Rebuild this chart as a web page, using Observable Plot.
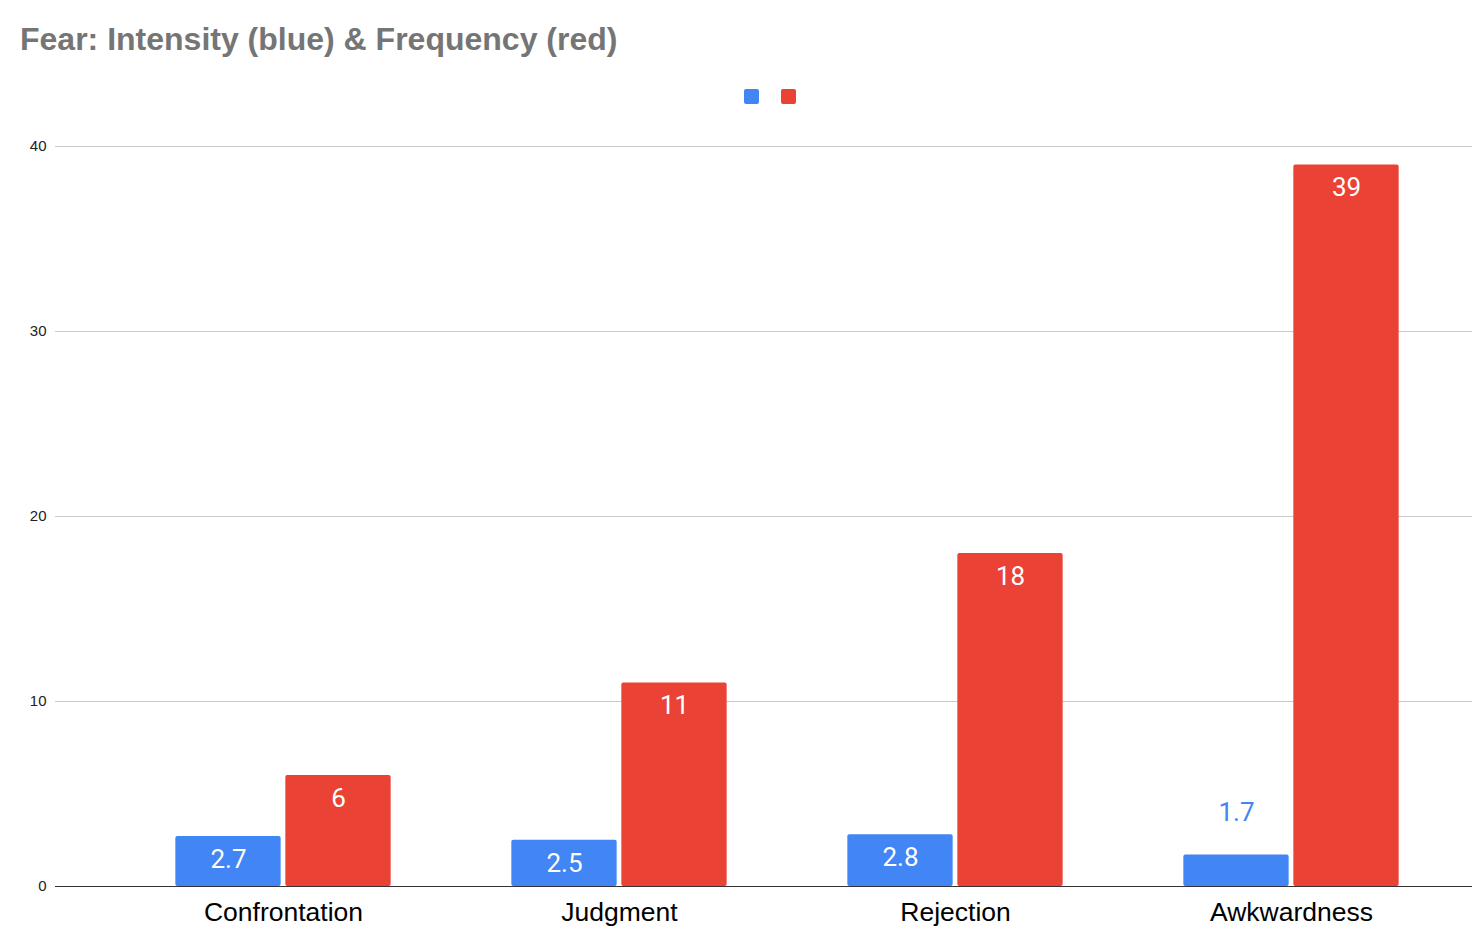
<!DOCTYPE html>
<html>
<head>
<meta charset="utf-8">
<script src="https://cdn.jsdelivr.net/npm/d3@7"></script>
<script src="https://cdn.jsdelivr.net/npm/@observablehq/plot@0.6"></script>
<style>
  html, body { margin: 0; padding: 0; background: #fff; }
  #header { position: relative; width: 1472px; height: 120px; }
  #title { position: absolute; left: 20px; top: 23px; font: bold 32px/32px "Liberation Sans", Arial, sans-serif; color: #757575; white-space: nowrap; }
  .sw { position: absolute; top: 89px; width: 15px; height: 15px; border-radius: 2px; }
  #chart svg { display: block; }
</style>
</head>
<body>
<div id="header">
  <div id="title">Fear: Intensity (blue) &amp; Frequency (red)</div>
</div>
<div id="chart"></div>
<script>
const categories = ["Confrontation", "Judgment", "Rejection", "Awkwardness"];
const intensity = [2.7, 2.5, 2.8, 1.7];
const frequency = [6, 11, 18, 39];
const seriesNames = ["Intensity", "Frequency"];
const seriesColors = ["#4285F4", "#EA4335"];
const yTicks = [0, 10, 20, 30, 40];

// legend swatches (no labels, as in the reference)
const header = document.getElementById("header");
[744, 781].forEach((left, i) => {
  const s = document.createElement("div");
  s.className = "sw";
  s.style.left = left + "px";
  s.style.background = seriesColors[i];
  header.appendChild(s);
});

const blueRows = categories.map((c, i) => ({category: c, value: intensity[i]}));
const redRows = categories.map((c, i) => ({category: c, value: frequency[i]}));

const half = (1460.33 - 113.67) / 8;

const chart = Plot.plot({
  width: 1472,
  height: 824,
  marginLeft: 55,
  marginRight: 0,
  marginTop: 26,
  marginBottom: 58,
  style: {fontFamily: "'Liberation Sans', Arial, sans-serif", background: "#fff"},
  x: {type: "band", domain: categories, range: [113.67, 1460.33], padding: 0},
  y: {domain: [0, 40]},
  marks: [
    Plot.gridY(yTicks, {stroke: "#cccccc", strokeOpacity: 1}),
    Plot.barY(blueRows, {x: "category", y: "value", fill: seriesColors[0], insetLeft: half - 108, insetRight: half + 2, rx: 2}),
    Plot.barY(redRows, {x: "category", y: "value", fill: seriesColors[1], insetLeft: half + 2, insetRight: half - 108, rx: 2}),
    Plot.ruleY([0], {stroke: "#333333", strokeWidth: 1}),
    Plot.axisY(yTicks, {tickSize: 0, tickPadding: 9, fontSize: 15, fill: "#222", label: null}),
    Plot.axisX({tickSize: 0, tickPadding: 16, fontSize: 26.5, fill: "#000", label: null}),
    Plot.text(blueRows.filter(d => d.value >= 2), {x: "category", y: "value", text: d => d3.format(".1f")(d.value), dx: -55, dy: 23, fill: "#fff", fontSize: 26, fontFamily: "Roboto", lineAnchor: "middle"}),
    Plot.text(blueRows.filter(d => d.value < 2), {x: "category", y: "value", text: d => d3.format(".1f")(d.value), dx: -55, dy: -42, fill: seriesColors[0], fontSize: 26, fontFamily: "Roboto", lineAnchor: "middle"}),
    Plot.text(redRows, {x: "category", y: "value", text: d => String(d.value), dx: 55, dy: 23, fill: "#fff", fontSize: 26, fontFamily: "Roboto", lineAnchor: "middle"})
  ]
});
document.getElementById("chart").appendChild(chart);
</script>
</body>
</html>
